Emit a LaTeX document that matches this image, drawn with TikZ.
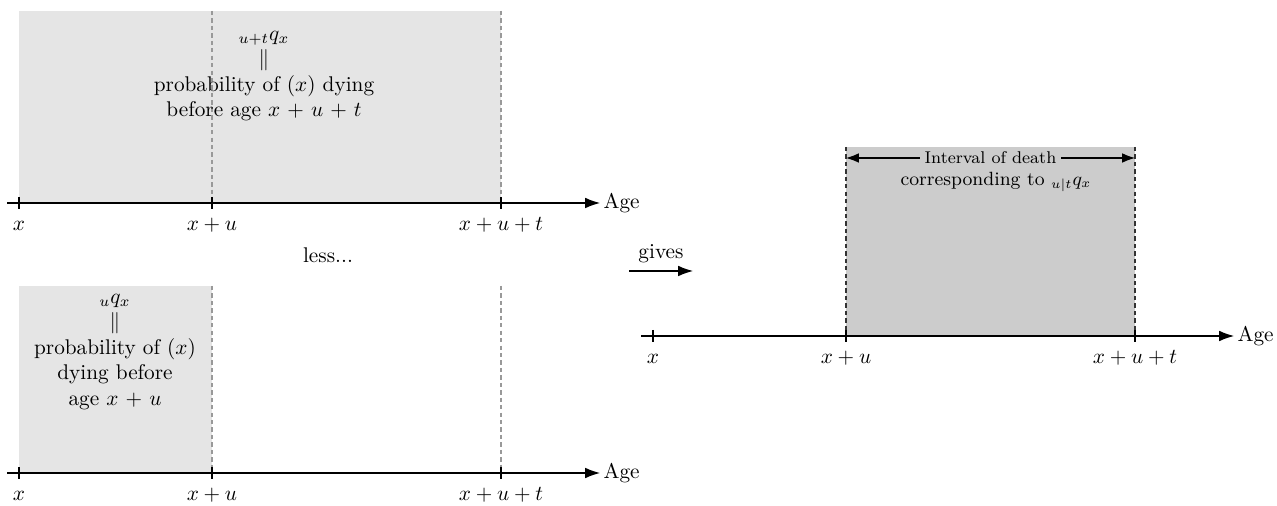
\documentclass[tikz,border=0pt]{standalone}
\usetikzlibrary{arrows.meta,positioning}
\definecolor{shadelight}{gray}{0.9}
\definecolor{shadedark}{gray}{0.8}

\begin{document}
\begin{tikzpicture}[
      x=0.47pt,y=-0.47pt,
      axis/.style={-{Latex[length=7pt,width=5pt]},line width=0.5pt},
      span/.style={{Latex[length=6pt,width=4.5pt]}-{Latex[length=6pt,width=4.5pt]},line width=0.5pt},
      tick/.style={line width=0.5pt},
      ticklabel/.style={anchor=base,yshift=-13pt},
      agelabel/.style={anchor=west,inner sep=1.5pt},
      guide/.style={gray!80,line width=0.5pt,dash pattern=on 2pt off 1.5pt},
      darkguide/.style={black!80,line width=0.5pt,dash pattern=on 2pt off 1.5pt},
      note/.style={align=center}
    ]
    \useasboundingbox (0,0) rectangle (1277,506);

    % axis points of the three panels
    \foreach \pn/\dx/\dy in {top/0/0,bot/0/270,res/634/133}{
      \begin{scope}[shift={(\dx,\dy)}]
        \coordinate (\pn-s) at (7,203);
        \coordinate (\pn-e) at (600,203);
        \coordinate (\pn-a) at (19,203);
        \coordinate (\pn-b) at (212,203);
        \coordinate (\pn-c) at (501,203);
      \end{scope}
    }

    % shaded regions
    \fill[shadelight] (19,11) rectangle (top-c);
    \fill[shadelight] (19,286) rectangle (bot-b);
    \fill[shadedark] (846,147) rectangle (res-c);

    \draw[guide] (212,11) -- (top-b);
    \draw[guide] (501,11) -- (top-c);
    \draw[guide] (212,286) -- (bot-b);
    \draw[guide] (501,286) -- (bot-c);
    \draw[darkguide] (846,147) -- (res-b);
    \draw[darkguide] (1135,147) -- (res-c);

    % time axes
    \foreach \pn in {top,bot,res}{
      \draw[axis] (\pn-s) -- (\pn-e);
      \node[agelabel] (\pn-age) at (\pn-e) {Age};
      \foreach \t/\lab in {a/x,b/x+u,c/x+u+t}{
        \draw[tick] (\pn-\t) ++(0,-6) -- ++(0,12);
        \node[ticklabel] (\pn-l\t) at (\pn-\t) {$\lab$};
      }
    }

    \node[note] (topnote) at (264,76) {${}_{u+t}q_x$\\$\|$\\probability of $(x)$ dying\\before age $x$ + $u$ + $t$};
    \node[note] (botnote) at (115,352) {${}_{u}q_x$\\$\|$\\probability of $(x)$\\dying before\\age $x$ + $u$};

    \node (less) at (328,255) {less...};

    \coordinate (gs) at (629,271);
    \coordinate (ge) at (693,271);
    \draw[axis] (gs) -- (ge) node[midway,above] (gives) {gives};

    % interval of death
    \coordinate (ivl-l) at (846,158);
    \coordinate (ivl-r) at (1135,158);
    \draw[span] (ivl-l) -- (ivl-r)
      node[midway,fill=shadedark,font=\footnotesize,inner sep=2pt] (ivl) {Interval of death};
    \node[font=\small] (corr) at (996,182) {corresponding to ${}_{u|t}q_x$};
  \end{tikzpicture}
\end{document}
